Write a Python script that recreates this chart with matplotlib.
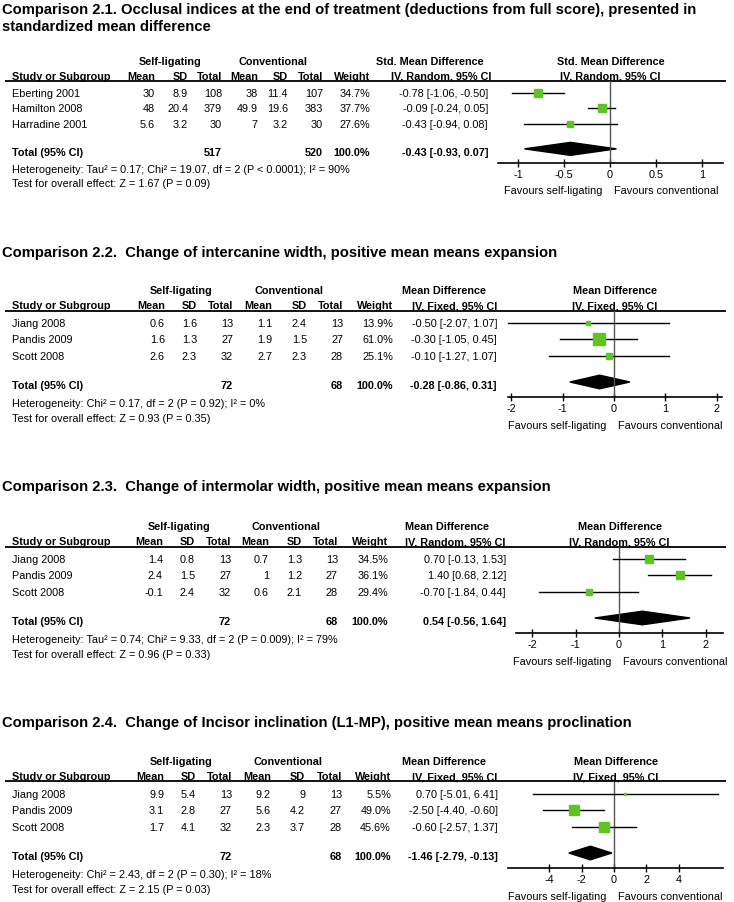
import matplotlib
matplotlib.use('Agg')
import matplotlib.pyplot as plt
from matplotlib.patches import Polygon

W, H = 734, 903
GREEN = '#5ec424'

# ---------------- data ----------------
P1_TITLE = ["Comparison 2.1. Occlusal indices at the end of treatment (deductions from full score), presented in",
            "standardized mean difference"]
P1_MEASURE = "Std. Mean Difference"
P1_METHOD = "IV, Random, 95% CI"
P1_STUDIES = ["Eberting 2001", "Hamilton 2008", "Harradine 2001"]
P1_SL_MEAN = [30, 48, 5.6]
P1_SL_SD = [8.9, 20.4, 3.2]
P1_SL_N = [108, 379, 30]
P1_CV_MEAN = [38, 49.9, 7]
P1_CV_SD = [11.4, 19.6, 3.2]
P1_CV_N = [107, 383, 30]
P1_WEIGHT = [34.7, 37.7, 27.6]
P1_EST = [-0.78, -0.09, -0.43]
P1_LO = [-1.06, -0.24, -0.94]
P1_HI = [-0.50, 0.05, 0.08]
P1_TOTAL = [-0.43, -0.93, 0.07]
P1_N_TOTAL = [517, 520]
P1_HET = "Heterogeneity: Tau² = 0.17; Chi² = 19.07, df = 2 (P < 0.0001); I² = 90%"
P1_TEST = "Test for overall effect: Z = 1.67 (P = 0.09)"
P1_TICKS = [-1, -0.5, 0, 0.5, 1]

P2_TITLE = ["Comparison 2.2.  Change of intercanine width, positive mean means expansion"]
P2_MEASURE = "Mean Difference"
P2_METHOD = "IV, Fixed, 95% CI"
P2_STUDIES = ["Jiang 2008", "Pandis 2009", "Scott 2008"]
P2_SL_MEAN = [0.6, 1.6, 2.6]
P2_SL_SD = [1.6, 1.3, 2.3]
P2_SL_N = [13, 27, 32]
P2_CV_MEAN = [1.1, 1.9, 2.7]
P2_CV_SD = [2.4, 1.5, 2.3]
P2_CV_N = [13, 27, 28]
P2_WEIGHT = [13.9, 61.0, 25.1]
P2_EST = [-0.50, -0.30, -0.10]
P2_LO = [-2.07, -1.05, -1.27]
P2_HI = [1.07, 0.45, 1.07]
P2_TOTAL = [-0.28, -0.86, 0.31]
P2_N_TOTAL = [72, 68]
P2_HET = "Heterogeneity: Chi² = 0.17, df = 2 (P = 0.92); I² = 0%"
P2_TEST = "Test for overall effect: Z = 0.93 (P = 0.35)"
P2_TICKS = [-2, -1, 0, 1, 2]

P3_TITLE = ["Comparison 2.3.  Change of intermolar width, positive mean means expansion"]
P3_MEASURE = "Mean Difference"
P3_METHOD = "IV, Random, 95% CI"
P3_STUDIES = ["Jiang 2008", "Pandis 2009", "Scott 2008"]
P3_SL_MEAN = [1.4, 2.4, -0.1]
P3_SL_SD = [0.8, 1.5, 2.4]
P3_SL_N = [13, 27, 32]
P3_CV_MEAN = [0.7, 1, 0.6]
P3_CV_SD = [1.3, 1.2, 2.1]
P3_CV_N = [13, 27, 28]
P3_WEIGHT = [34.5, 36.1, 29.4]
P3_EST = [0.70, 1.40, -0.70]
P3_LO = [-0.13, 0.68, -1.84]
P3_HI = [1.53, 2.12, 0.44]
P3_TOTAL = [0.54, -0.56, 1.64]
P3_N_TOTAL = [72, 68]
P3_HET = "Heterogeneity: Tau² = 0.74; Chi² = 9.33, df = 2 (P = 0.009); I² = 79%"
P3_TEST = "Test for overall effect: Z = 0.96 (P = 0.33)"
P3_TICKS = [-2, -1, 0, 1, 2]

P4_TITLE = ["Comparison 2.4.  Change of Incisor inclination (L1-MP), positive mean means proclination"]
P4_MEASURE = "Mean Difference"
P4_METHOD = "IV, Fixed, 95% CI"
P4_STUDIES = ["Jiang 2008", "Pandis 2009", "Scott 2008"]
P4_SL_MEAN = [9.9, 3.1, 1.7]
P4_SL_SD = [5.4, 2.8, 4.1]
P4_SL_N = [13, 27, 32]
P4_CV_MEAN = [9.2, 5.6, 2.3]
P4_CV_SD = [9, 4.2, 3.7]
P4_CV_N = [13, 27, 28]
P4_WEIGHT = [5.5, 49.0, 45.6]
P4_EST = [0.70, -2.50, -0.60]
P4_LO = [-5.01, -4.40, -2.57]
P4_HI = [6.41, -0.60, 1.37]
P4_TOTAL = [-1.46, -2.79, -0.13]
P4_N_TOTAL = [72, 68]
P4_HET = "Heterogeneity: Chi² = 2.43, df = 2 (P = 0.30); I² = 18%"
P4_TEST = "Test for overall effect: Z = 2.15 (P = 0.03)"
P4_TICKS = [-4, -2, 0, 2, 4]


def make_panel(title, measure, method, studies, sl_mean, sl_sd, sl_n, cv_mean, cv_sd, cv_n,
               weight, est, lo, hi, total, n_total, het, test, ticks):
    return dict(title=title, measure=measure, method=method, studies=studies,
                sl_mean=sl_mean, sl_sd=sl_sd, sl_n=sl_n, cv_mean=cv_mean, cv_sd=cv_sd,
                cv_n=cv_n, weight=weight, est=est, lo=lo, hi=hi, total=total,
                n_total=n_total, het=het, test=test, ticks=ticks)


PANELS = [
    make_panel(P1_TITLE, P1_MEASURE, P1_METHOD, P1_STUDIES, P1_SL_MEAN, P1_SL_SD, P1_SL_N,
               P1_CV_MEAN, P1_CV_SD, P1_CV_N, P1_WEIGHT, P1_EST, P1_LO, P1_HI, P1_TOTAL,
               P1_N_TOTAL, P1_HET, P1_TEST, P1_TICKS),
    make_panel(P2_TITLE, P2_MEASURE, P2_METHOD, P2_STUDIES, P2_SL_MEAN, P2_SL_SD, P2_SL_N,
               P2_CV_MEAN, P2_CV_SD, P2_CV_N, P2_WEIGHT, P2_EST, P2_LO, P2_HI, P2_TOTAL,
               P2_N_TOTAL, P2_HET, P2_TEST, P2_TICKS),
    make_panel(P3_TITLE, P3_MEASURE, P3_METHOD, P3_STUDIES, P3_SL_MEAN, P3_SL_SD, P3_SL_N,
               P3_CV_MEAN, P3_CV_SD, P3_CV_N, P3_WEIGHT, P3_EST, P3_LO, P3_HI, P3_TOTAL,
               P3_N_TOTAL, P3_HET, P3_TEST, P3_TICKS),
    make_panel(P4_TITLE, P4_MEASURE, P4_METHOD, P4_STUDIES, P4_SL_MEAN, P4_SL_SD, P4_SL_N,
               P4_CV_MEAN, P4_CV_SD, P4_CV_N, P4_WEIGHT, P4_EST, P4_LO, P4_HI, P4_TOTAL,
               P4_N_TOTAL, P4_HET, P4_TEST, P4_TICKS),
]

# ---------------- layout (pixels, y from top) ----------------
LAYOUT = [
    dict(h1=62, scale=0.955, title_y=[10, 27], cols=[155, 188, 222, 258, 288, 323, 370, 488],
         sl_x=170, cv_x=273, eff_x=[430, 441], plot_px=(498, 723), zero_px=610, ppu=92.0),
    dict(h1=291, scale=1.0, title_y=[253], cols=[165, 197, 233, 272, 307, 343, 393, 497],
         sl_x=181, cv_x=289, eff_x=[444, 455], plot_px=(508, 722), zero_px=614, ppu=51.3),
    dict(h1=527, scale=1.0, title_y=[487], cols=[163, 195, 231, 269, 302, 338, 388, 506],
         sl_x=179, cv_x=286, eff_x=[447, 455], plot_px=(516, 723), zero_px=619, ppu=43.3),
    dict(h1=762, scale=1.0, title_y=[723], cols=[164, 196, 232, 271, 305, 342, 391, 498],
         sl_x=181, cv_x=288, eff_x=[444, 455], plot_px=(508, 723), zero_px=614, ppu=16.2),
]

FS = 7.8
TITLE_FS = 10.6

plt.rcParams['font.family'] = 'Liberation Sans'


def fmt_ci(e, l, h):
    return f"{e:.2f} [{l:.2f}, {h:.2f}]"


def draw_panel(fig, bg, p, lay):
    s = lay['scale']

    def yy(off):
        return lay['h1'] + off * s

    for line, ty in zip(p['title'], lay['title_y']):
        bg.text(2, ty, line, fontsize=TITLE_FS, fontweight='bold', va='center')

    bold = dict(fontsize=FS, fontweight='bold', va='center')
    norm = dict(fontsize=FS, va='center')
    cols = lay['cols']

    # header rows
    bg.text(lay['sl_x'], yy(0), 'Self-ligating', ha='center', **bold)
    bg.text(lay['cv_x'], yy(0), 'Conventional', ha='center', **bold)
    bg.text(lay['eff_x'][0], yy(0), p['measure'], ha='center', **bold)
    bg.text(12, yy(15.5), 'Study or Subgroup', ha='left', **bold)
    for x, lab in zip(cols[:7], ['Mean', 'SD', 'Total', 'Mean', 'SD', 'Total', 'Weight']):
        bg.text(x, yy(15.5), lab, ha='right', **bold)
    bg.text(lay['eff_x'][1], yy(15.5), p['method'], ha='center', **bold)
    left, right = lay['plot_px']
    pc = (left + right) / 2
    bg.text(pc, yy(0), p['measure'], ha='center', **bold)
    bg.text(pc, yy(15.5), p['method'], ha='center', **bold)
    bg.plot([5, 726], [yy(20.5), yy(20.5)], color='black', lw=1.3, solid_capstyle='butt')

    # study rows
    row_y = []
    for i, name in enumerate(p['studies']):
        y = yy(33 + 16.3 * i)
        row_y.append(y)
        vals = [f"{p['sl_mean'][i]:g}", f"{p['sl_sd'][i]:g}", f"{p['sl_n'][i]}",
                f"{p['cv_mean'][i]:g}", f"{p['cv_sd'][i]:g}", f"{p['cv_n'][i]}",
                f"{p['weight'][i]:.1f}%", fmt_ci(p['est'][i], p['lo'][i], p['hi'][i])]
        bg.text(12, y, name, ha='left', **norm)
        for x, v in zip(cols, vals):
            bg.text(x, y, v, ha='right', **norm)

    # total row
    ty = yy(95)
    bg.text(12, ty, 'Total (95% CI)', ha='left', **bold)
    bg.text(cols[2], ty, str(p['n_total'][0]), ha='right', **bold)
    bg.text(cols[5], ty, str(p['n_total'][1]), ha='right', **bold)
    bg.text(cols[6], ty, '100.0%', ha='right', **bold)
    bg.text(cols[7], ty, fmt_ci(*p['total']), ha='right', **bold)
    bg.text(12, yy(113), p['het'], ha='left', **norm)
    bg.text(12, yy(128), p['test'], ha='left', **norm)

    # forest plot axes
    top, bottom = yy(20.5), yy(107)
    zero, ppu = lay['zero_px'], lay['ppu']
    fa = fig.add_axes([left / W, 1 - bottom / H, (right - left) / W, (bottom - top) / H])
    fa.patch.set_alpha(0)
    fa.set_xlim((left - zero) / ppu, (right - zero) / ppu)
    fa.set_ylim(bottom, top)
    for sp in ['top', 'left', 'right']:
        fa.spines[sp].set_visible(False)
    fa.spines['bottom'].set_linewidth(1.2)
    fa.set_yticks([])
    fa.set_xticks(p['ticks'])
    fa.set_xticklabels([f"{t:g}" for t in p['ticks']])
    fa.tick_params(axis='x', direction='inout', length=6, width=1, labelsize=FS, pad=1.0)
    fa.axvline(0, color='#555555', lw=1)

    for i, y in enumerate(row_y):
        fa.plot([p['lo'][i], p['hi'][i]], [y, y], color='black', lw=1, clip_on=False)
        size_px = 1.5 + 0.17 * p['weight'][i]
        fa.plot(p['est'][i], y, marker='s', ms=size_px * 0.72, color=GREEN, mec=GREEN,
                clip_on=False)

    est, lo, hi = p['total']
    dy = ty - 3 * s
    half = 6.8 * s
    fa.add_patch(Polygon([(lo, dy), (est, dy - half), (hi, dy), (est, dy + half)],
                         closed=True, color='black', clip_on=False))

    fy = yy(135)
    bg.text(zero - 8, fy, 'Favours self-ligating', ha='right', **norm)
    bg.text(zero + 4, fy, 'Favours conventional', ha='left', **norm)


fig = plt.figure(figsize=(W / 100, H / 100), dpi=100)
bg = fig.add_axes([0, 0, 1, 1])
bg.set_xlim(0, W)
bg.set_ylim(H, 0)
bg.axis('off')

for p, lay in zip(PANELS, LAYOUT):
    draw_panel(fig, bg, p, lay)

fig.savefig('out.png', dpi=100)
